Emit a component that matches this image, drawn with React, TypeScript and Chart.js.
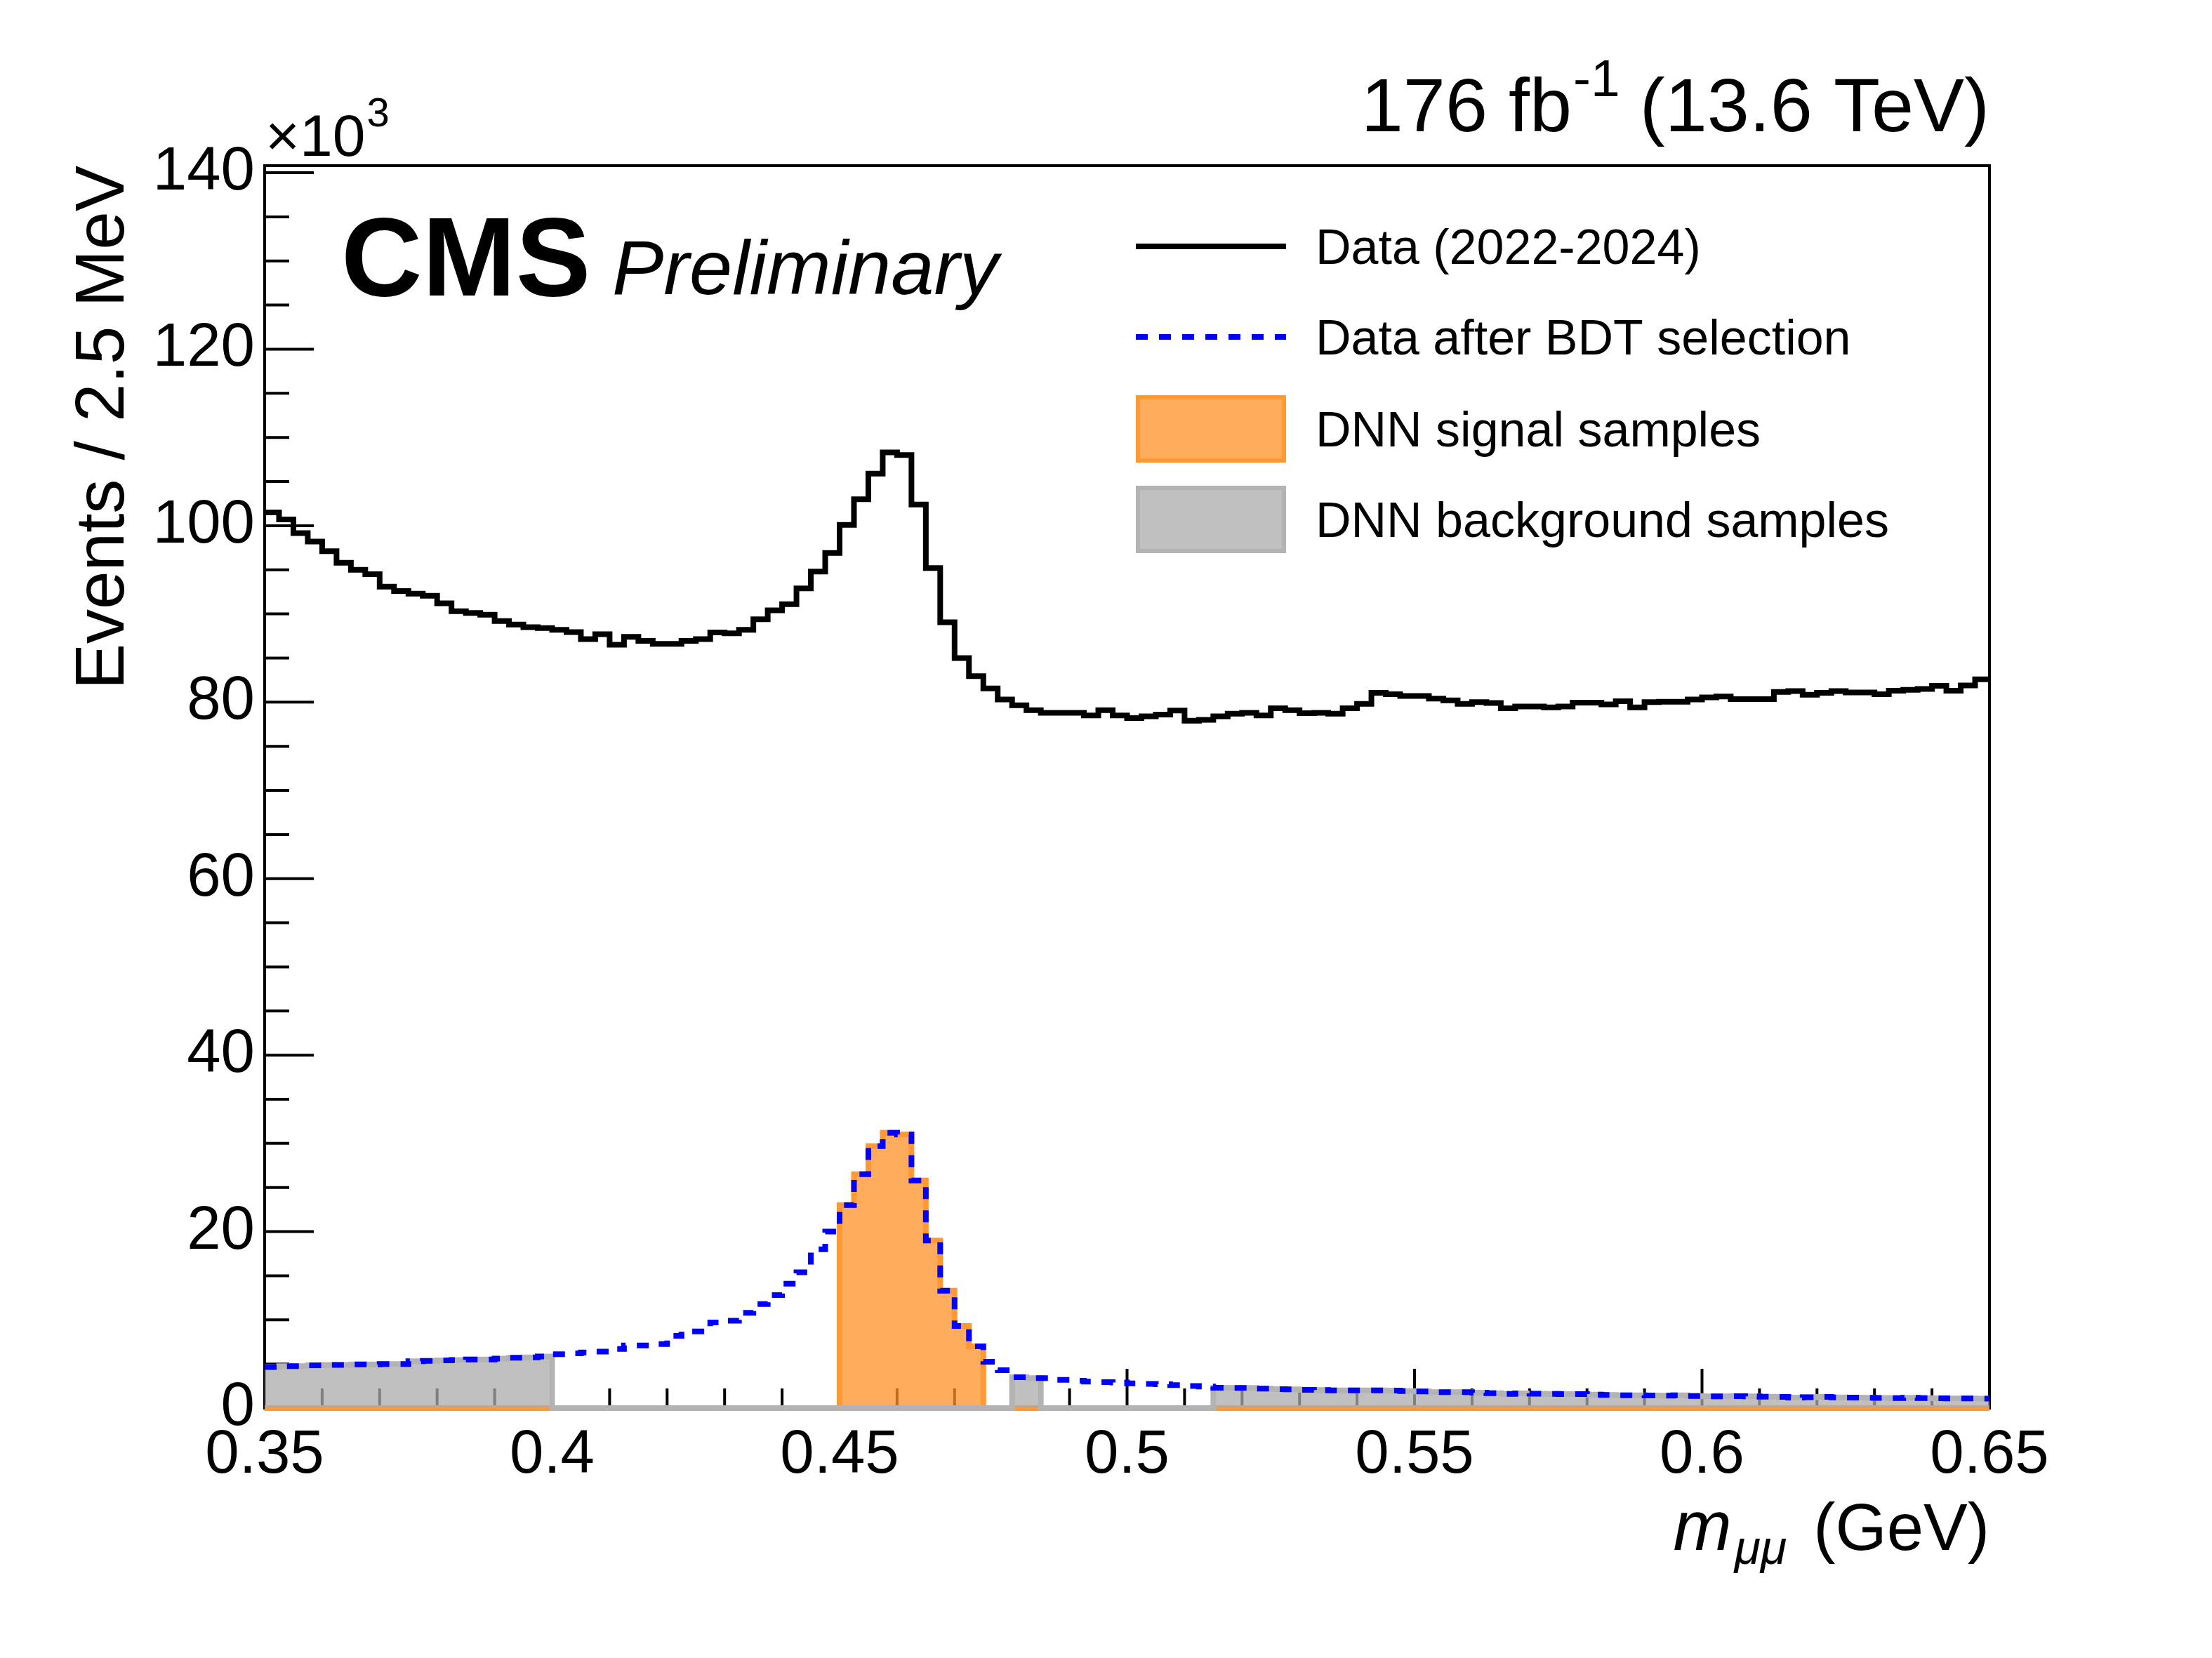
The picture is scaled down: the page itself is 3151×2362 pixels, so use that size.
import React, { useEffect, useRef } from "react";
import { Chart, registerables } from "chart.js";

Chart.register(...registerables);

// ---------------- data ----------------
const X_MIN = 0.35;
const X_MAX = 0.65;
const BIN_WIDTH_MEV = 2.5;
const Y_MAX = 140.8;

// Events / 2.5 MeV (x10^3), all data 2022-2024, 120 bins from 0.35 to 0.65 GeV
const DATA_ALL = [
  101.5, 100.7, 99.15, 98.2, 97.1, 95.8, 95.0, 94.5, 93.1, 92.6,
  92.3, 92.05, 91.2, 90.3, 90.1, 89.9, 89.2, 88.8, 88.5, 88.4,
  88.2, 87.95, 87.15, 87.7, 86.5, 87.4, 86.95, 86.6, 86.6, 86.95,
  87.15, 87.9, 87.8, 88.2, 89.4, 90.4, 91.1, 92.9, 94.8, 96.9,
  100.1, 103.0, 105.9, 108.3, 108.0, 102.4, 95.2, 89.05, 85.0, 82.95,
  81.55, 80.3, 79.65, 79.1, 78.8, 78.8, 78.8, 78.5, 79.1, 78.5,
  78.2, 78.4, 78.6, 79.05, 77.9, 78.0, 78.4, 78.7, 78.8, 78.5,
  79.3, 79.1, 78.75, 78.8, 78.7, 79.3, 79.8, 81.05, 80.9, 80.7,
  80.7, 80.4, 80.2, 79.8, 80.0, 79.9, 79.3, 79.5, 79.5, 79.4,
  79.5, 79.95, 79.95, 79.75, 80.1, 79.4, 80.0, 80.05, 80.05, 80.3,
  80.55, 80.65, 80.35, 80.35, 80.35, 81.15, 81.25, 80.85, 81.05, 81.25,
  81.1, 81.1, 80.9, 81.3, 81.4, 81.5, 81.85, 81.3, 81.9, 82.6,
];

// Events / 2.5 MeV (x10^3), data after BDT selection
const DATA_BDT = [
  4.65, 4.75, 4.75, 4.85, 4.9, 4.9, 4.95, 4.95, 5.0, 5.0,
  5.3, 5.35, 5.4, 5.45, 5.5, 5.5, 5.6, 5.7, 5.75, 5.85,
  6.1, 6.2, 6.3, 6.4, 6.7, 7.1, 7.1, 7.25, 8.2, 8.7,
  8.7, 9.7, 9.9, 10.8, 11.8, 12.8, 14.1, 15.4, 18.0, 20.0,
  23.0, 26.5, 29.7, 31.2, 31.0, 25.8, 19.0, 13.3, 9.3, 7.0,
  5.25, 4.3, 3.5, 3.4, 3.4, 3.2, 3.1, 3.0, 2.95, 2.9,
  2.8, 2.75, 2.7, 2.6, 2.5, 2.45, 2.3, 2.28, 2.28, 2.2,
  2.15, 2.12, 2.07, 2.04, 2.01, 2.0, 2.0, 2.0, 1.98, 1.92,
  1.88, 1.8, 1.8, 1.8, 1.75, 1.7, 1.62, 1.67, 1.64, 1.62,
  1.6, 1.6, 1.54, 1.5, 1.46, 1.46, 1.44, 1.41, 1.46, 1.38,
  1.33, 1.34, 1.35, 1.33, 1.3, 1.27, 1.19, 1.24, 1.27, 1.22,
  1.2, 1.17, 1.15, 1.14, 1.17, 1.14, 1.12, 1.1, 1.09, 1.08,
];

// mass windows (GeV) used for the DNN training samples
const SIGNAL_WINDOWS = [[0.45, 0.475]];
const BACKGROUND_WINDOWS = [[0.35, 0.4], [0.48, 0.485], [0.515, 0.65]];

const X_TICKS = [0.35, 0.4, 0.45, 0.5, 0.55, 0.6, 0.65];
const Y_TICKS = [0, 20, 40, 60, 80, 100, 120, 140];

const LEGEND_LABELS = [
  "Data (2022-2024)",
  "Data after BDT selection",
  "DNN signal samples",
  "DNN background samples",
];

// ---------------- helpers ----------------
const FONT = '"Liberation Sans", Arial, Helvetica, sans-serif';
const W = 3151;
const H = 2362;
const AREA = { left: 377, right: 2834, top: 236, bottom: 2006 };
const DASH = [17, 16];

const edge = (i: number) => (X_MIN * 1000 + BIN_WIDTH_MEV * i) / 1000;

function toSteps(values: number[]) {
  const pts = values.map((y, i) => ({ x: edge(i), y }));
  pts.push({ x: edge(values.length), y: values[values.length - 1] });
  return pts;
}

function mask(values: number[], windows: number[][]) {
  return values.map((v, i) => {
    const c = (edge(i) + edge(i + 1)) / 2;
    return windows.some(([a, b]) => c > a && c < b) ? v : 0;
  });
}

const COLORS = {
  data: "#000000",
  bdt: "#0000ff",
  sigLine: "rgb(255,153,51)",
  sigFill: "rgba(255,144,38,0.75)",
  bkgLine: "rgb(179,179,179)",
  bkgFill: "rgba(171,171,171,0.75)",
};

const framePlugin = {
  id: "rootFrame",
  beforeDatasetsDraw(chart: any) {
    const { ctx, chartArea: a, scales } = chart;
    const xs = scales.x;
    const ys = scales.y;
    ctx.save();
    ctx.strokeStyle = "#000";
    ctx.lineWidth = 4;
    ctx.strokeRect(a.left, a.top, a.right - a.left, a.bottom - a.top);
    ctx.beginPath();
    // y ticks (inward): major every 20, minor every 5
    for (let v = 0; v <= 140 + 1e-9; v += 5) {
      const y = ys.getPixelForValue(v);
      const len = v % 20 === 0 ? 70 : 35;
      ctx.moveTo(a.left, y);
      ctx.lineTo(a.left + len, y);
    }
    // x ticks (inward): major every 0.05, minor every 0.01
    for (let k = 0; k <= 30; k++) {
      const v = (350 + 10 * k) / 1000;
      const x = xs.getPixelForValue(v);
      const len = k % 5 === 0 ? 56 : 28;
      ctx.moveTo(x, a.bottom);
      ctx.lineTo(x, a.bottom - len);
    }
    ctx.stroke();
    ctx.restore();
  },
};

const textPlugin = {
  id: "rootTexts",
  afterDraw(chart: any) {
    const { ctx, chartArea: a } = chart;
    ctx.save();
    ctx.fillStyle = "#000";
    ctx.textBaseline = "alphabetic";

    // title (right aligned)
    const tSize = 108;
    const supSize = 75;
    const p3 = " (13.6 TeV)";
    const p2 = "-1";
    const p1 = "176 fb";
    ctx.font = `${tSize}px ${FONT}`;
    const w3 = ctx.measureText(p3).width;
    ctx.font = `${supSize}px ${FONT}`;
    const w2 = ctx.measureText(p2).width;
    ctx.font = `${tSize}px ${FONT}`;
    const w1 = ctx.measureText(p1).width;
    let x = a.right - w3 - w2 - w1;
    ctx.textAlign = "left";
    ctx.fillText(p1, x, 187);
    x += w1 + 2;
    ctx.font = `${supSize}px ${FONT}`;
    ctx.fillText(p2, x, 137);
    x += w2 - 2;
    ctx.font = `${tSize}px ${FONT}`;
    ctx.fillText(p3, x, 187);

    // x10^3
    ctx.font = `84px ${FONT}`;
    ctx.fillText("\u00d710", 378, 222);
    const wx = ctx.measureText("\u00d710").width;
    ctx.font = `58px ${FONT}`;
    ctx.fillText("3", 378 + wx + 2, 180);

    // CMS Preliminary
    ctx.font = `bold 160px ${FONT}`;
    ctx.fillText("CMS", 486, 421);
    ctx.font = `italic 110px ${FONT}`;
    ctx.fillText("Preliminary", 872, 419);

    // y-axis title
    ctx.save();
    ctx.translate(176, a.top);
    ctx.rotate(-Math.PI / 2);
    ctx.textAlign = "right";
    ctx.font = `98px ${FONT}`;
    ctx.fillText("Events / 2.5 MeV", 0, 0);
    ctx.restore();

    // x-axis title: m_{mumu} (GeV), right aligned
    ctx.textAlign = "left";
    ctx.font = `94px ${FONT}`;
    const gev = "(GeV)";
    const wg = ctx.measureText(gev).width;
    ctx.font = `italic 68px ${FONT}`;
    const mm = "\u03bc\u03bc";
    const wm = ctx.measureText(mm).width;
    ctx.font = `italic 100px ${FONT}`;
    const wmm = ctx.measureText("m").width;
    const gap = 38;
    let xx = a.right - wg - gap - wm - wmm - 4;
    ctx.fillText("m", xx, 2208);
    xx += wmm + 4;
    ctx.font = `italic 68px ${FONT}`;
    ctx.fillText(mm, xx, 2228);
    xx += wm + gap;
    ctx.font = `94px ${FONT}`;
    ctx.fillText(gev, xx, 2208);

    // legend
    const lx0 = 1618;
    const lx1 = 1832;
    const tx = 1874;
    const rows = [351, 480, 611, 740];
    // data line
    ctx.strokeStyle = COLORS.data;
    ctx.lineWidth = 8;
    ctx.setLineDash([]);
    ctx.beginPath();
    ctx.moveTo(lx0, rows[0]);
    ctx.lineTo(lx1, rows[0]);
    ctx.stroke();
    // bdt line
    ctx.strokeStyle = COLORS.bdt;
    ctx.setLineDash(DASH);
    ctx.beginPath();
    ctx.moveTo(lx0, rows[1]);
    ctx.lineTo(lx1, rows[1]);
    ctx.stroke();
    ctx.setLineDash([]);
    // boxes
    const boxH = 96;
    ctx.lineWidth = 6;
    ctx.fillStyle = COLORS.sigFill;
    ctx.fillRect(lx0, rows[2] - boxH / 2, lx1 - lx0, boxH);
    ctx.strokeStyle = COLORS.sigLine;
    ctx.strokeRect(lx0 + 3, rows[2] - boxH / 2 + 3, lx1 - lx0 - 6, boxH - 6);
    ctx.fillStyle = COLORS.bkgFill;
    ctx.fillRect(lx0, rows[3] - boxH / 2, lx1 - lx0, boxH);
    ctx.strokeStyle = COLORS.bkgLine;
    ctx.strokeRect(lx0 + 3, rows[3] - boxH / 2 + 3, lx1 - lx0 - 6, boxH - 6);
    ctx.fillStyle = "#000";
    ctx.font = `70px ${FONT}`;
    LEGEND_LABELS.forEach((lab, i) => {
      ctx.fillText(lab, tx, rows[i] + 25);
    });
    ctx.restore();
  },
};

export default function App() {
  const ref = useRef<HTMLCanvasElement | null>(null);

  useEffect(() => {
    const canvas = ref.current;
    if (!canvas) return;
    const sig = mask(DATA_BDT, SIGNAL_WINDOWS);
    const bkg = mask(DATA_BDT, BACKGROUND_WINDOWS);
    const common = {
      stepped: true,
      pointRadius: 0,
      pointHoverRadius: 0,
      tension: 0,
      clip: false,
      borderJoinStyle: "miter",
      borderCapStyle: "butt",
    };
    const chart = new Chart(canvas, {
      type: "line",
      data: {
        datasets: [
          {
            ...common,
            label: LEGEND_LABELS[0],
            data: toSteps(DATA_ALL),
            borderColor: COLORS.data,
            borderWidth: 8,
            fill: false,
          },
          {
            ...common,
            label: LEGEND_LABELS[1],
            data: toSteps(DATA_BDT),
            borderColor: COLORS.bdt,
            borderWidth: 8,
            borderDash: DASH,
            fill: false,
          },
          {
            ...common,
            label: LEGEND_LABELS[3],
            data: toSteps(bkg),
            borderColor: COLORS.bkgLine,
            backgroundColor: COLORS.bkgFill,
            borderWidth: 8,
            fill: "origin",
          },
          {
            ...common,
            label: LEGEND_LABELS[2],
            data: toSteps(sig),
            borderColor: COLORS.sigLine,
            backgroundColor: COLORS.sigFill,
            borderWidth: 8,
            fill: "origin",
          },
        ],
      } as any,
      options: {
        animation: false,
        responsive: false,
        maintainAspectRatio: false,
        events: [],
        layout: {
          padding: { left: 0, right: W - AREA.right, top: AREA.top, bottom: 0 },
        },
        plugins: {
          legend: { display: false },
          tooltip: { enabled: false },
          title: { display: false },
        },
        scales: {
          x: {
            type: "linear",
            min: X_MIN,
            max: X_MAX,
            afterBuildTicks: (s: any) => {
              s.ticks = X_TICKS.map((v) => ({ value: v }));
            },
            afterFit: (s: any) => {
              s.height = H - AREA.bottom;
            },
            grid: { display: false, drawTicks: false },
            border: { display: false },
            ticks: {
              font: { family: FONT, size: 87 },
              color: "#000",
              padding: 16,
              maxRotation: 0,
              minRotation: 0,
              autoSkip: false,
              callback: (v: any) => String(v),
            },
          },
          y: {
            type: "linear",
            min: 0,
            max: Y_MAX,
            afterBuildTicks: (s: any) => {
              s.ticks = Y_TICKS.map((v) => ({ value: v }));
            },
            afterFit: (s: any) => {
              s.width = AREA.left;
            },
            grid: { display: false, drawTicks: false },
            border: { display: false },
            ticks: {
              font: { family: FONT, size: 87 },
              color: "#000",
              padding: 14,
              autoSkip: false,
              callback: (v: any) => String(v),
            },
          },
        },
      } as any,
      plugins: [framePlugin, textPlugin],
    });
    return () => chart.destroy();
  }, []);

  return (
    <div
      style={{
        position: "fixed",
        left: 0,
        top: 0,
        width: W,
        height: H,
        background: "#fff",
      }}
    >
      <canvas ref={ref} width={W} height={H} style={{ width: W, height: H, display: "block" }} />
    </div>
  );
}
